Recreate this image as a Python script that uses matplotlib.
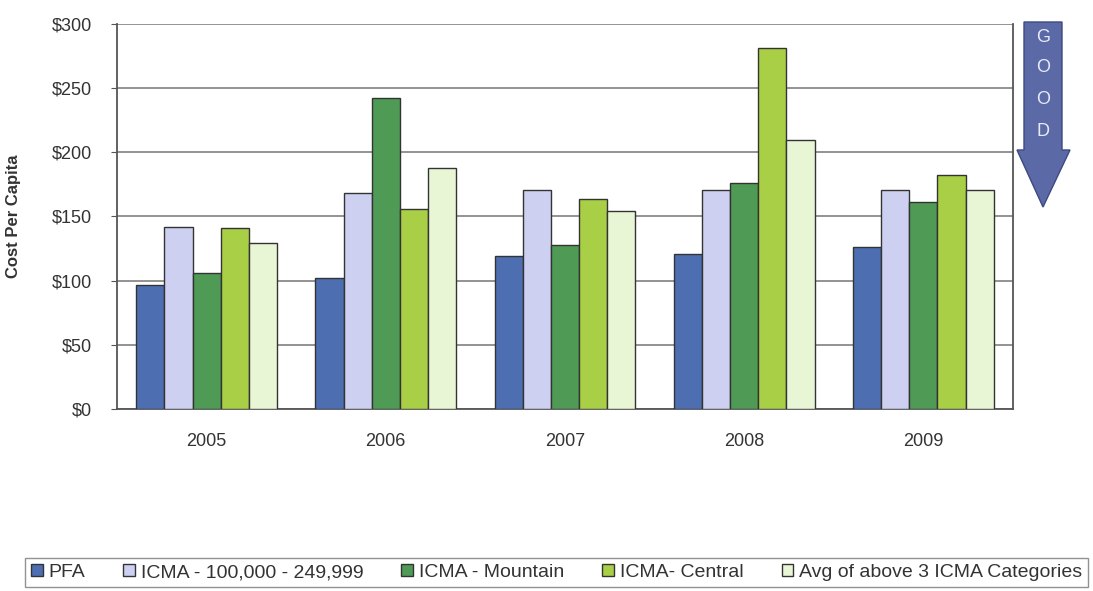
import matplotlib
matplotlib.use("Agg")
import matplotlib.pyplot as plt
import numpy as np
from matplotlib.patches import Polygon

plt.rcParams["font.family"] = ["Liberation Sans", "DejaVu Sans"]

years = ["2005", "2006", "2007", "2008", "2009"]
series_names = ["PFA", "ICMA - 100,000 - 249,999", "ICMA - Mountain", "ICMA- Central",
                "Avg of above 3 ICMA Categories"]
pfa = [97, 102, 119, 121, 126]
icma_100k = [142, 168, 171, 171, 171]
icma_mountain = [106, 242, 128, 176, 161]
icma_central = [141, 156, 164, 281, 182]
icma_avg = [129, 188, 154, 210, 171]
yticks = [0, 50, 100, 150, 200, 250, 300]
ytick_labels = ["$0", "$50", "$100", "$150", "$200", "$250", "$300"]

colors = ["#4d6fb2", "#cdd0f0", "#4f9a55", "#a8cf45", "#e8f6d6"]
all_series = [pfa, icma_100k, icma_mountain, icma_central, icma_avg]

fig = plt.figure(figsize=(10.93, 5.91), dpi=100)
ax = fig.add_axes([117/1093, 1-409/591, (1013-117)/1093, (409-24)/591])

x = np.arange(len(years)) + 0.5
w = 0.157
for i, (vals, c, name) in enumerate(zip(all_series, colors, series_names)):
    ax.bar(x + (i - 2) * w, vals, width=w, color=c, edgecolor="#333333",
           linewidth=1.0, label=name, zorder=3)

ax.set_xlim(0, len(years))
ax.set_ylim(0, 300)
ax.set_yticks(yticks)
ax.set_yticklabels(ytick_labels, fontsize=13, color="#333333")
ax.set_xticks(x)
ax.set_xticklabels(years, fontsize=13, color="#333333")
ax.tick_params(axis="x", length=0, pad=17)
ax.tick_params(axis="y", length=4, color="#555555", pad=14)
ax.yaxis.grid(True, color="#8a8a8a", linewidth=1.3, zorder=0)
ax.set_axisbelow(True)
for s in ["left", "bottom", "right"]:
    ax.spines[s].set_color("#555555")
    ax.spines[s].set_linewidth(1.3)
ax.spines["top"].set_visible(False)
ax.set_ylabel("Cost Per Capita", fontsize=12, color="#333333", fontweight="bold")
ax.yaxis.set_label_coords(-0.107, 0.5)

leg = fig.legend(loc="lower left", bbox_to_anchor=(25/1093, 4/591, (1088-25)/1093, 32/591),
                 mode="expand", ncol=5, frameon=True, fontsize=14, borderaxespad=0,
                 handlelength=0.6, handleheight=0.6, handletextpad=0.3,
                 columnspacing=0.3, borderpad=0.3, fancybox=False)
leg.get_frame().set_edgecolor("#777777")
leg.get_frame().set_linewidth(1.0)
for t in leg.get_texts():
    t.set_color("#333333")

# GOOD arrow
W, H = 1093, 591
pts = [(1024, 22), (1062, 22), (1062, 150), (1070, 150), (1043, 207), (1017, 150), (1024, 150)]
poly = Polygon([(px / W, 1 - py / H) for px, py in pts], closed=True,
               transform=fig.transFigure, facecolor="#5b6aa6", edgecolor="#3d4a80",
               linewidth=1.0)
fig.add_artist(poly)
for letter, py in zip("GOOD", [38, 68, 100, 132]):
    fig.text(1043 / W, 1 - py / H, letter, ha="center", va="center",
             fontsize=13, color="#e8ecf8")

fig.savefig("out.png", dpi=100)
